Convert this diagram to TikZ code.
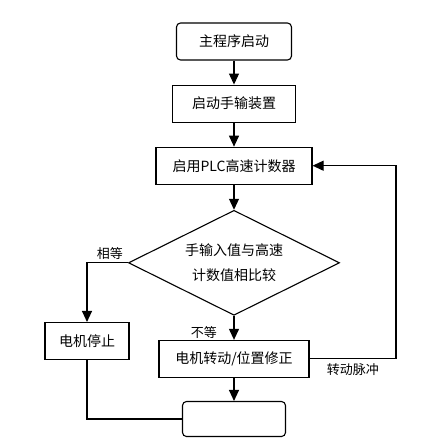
\documentclass[tikz,border=0pt]{standalone}
\usepackage{fontspec}
\newfontfamily\cjk{Noto Sans CJK SC}
\usetikzlibrary{arrows.meta, positioning, shapes.geometric}
\tikzset{
    box/.style={rectangle, draw=black, line width=1.1pt, fill=white, minimum height=37pt, inner sep=2pt, align=center, font=\cjk\fontsize{14}{16}\selectfont},
    roundbox/.style={box, rounded corners=4pt},
    decision/.style={diamond, aspect=2, draw=black, line width=1.1pt, fill=white, minimum width=211pt, minimum height=105pt, inner sep=0pt, align=center, font=\cjk\fontsize{14}{25}\selectfont},
    tag/.style={font=\cjk\fontsize{13}{15}\selectfont, inner sep=1pt},
    arrow/.style={-{Triangle[length=11pt,width=10pt]}, line width=1.1pt, draw=black},
    line/.style={line width=1.1pt, draw=black}
}
\begin{document}
\begin{tikzpicture}[node distance=24pt]
    \useasboundingbox (0,0) rectangle (443pt,-437pt);
    \node[roundbox, minimum width=115pt] (start) at (234pt,-41.5pt) {主程序启动};
    \node[box, below=of start, minimum width=123pt] (init) {启动手输装置};
    \node[box, below=of init, minimum width=156pt] (counter) {启用PLC高速计数器};
    \node[decision, below=25pt of counter] (compare) {手输入值与高速\\计数值相比较};
    \node[box, below=of compare, minimum width=150pt] (motor) {电机转动/位置修正};
    \node[roundbox, below=23pt of motor, minimum width=103pt, minimum height=35pt] (finish) {};
    \node[box, minimum width=84pt] (stop) at (87pt,-341pt) {电机停止};
    \coordinate (turn) at (396pt,0);

    \node[tag, above left=2pt and 4pt of compare.west] (equal) {相等};
    \node[tag, above left=0pt and 16pt of motor.north] (unequal) {不等};
    \node[tag, below right=3pt and 16pt of motor.east] (pulse) {转动脉冲};

    \draw[arrow] (start) -- (init);
    \draw[arrow] (init) -- (counter);
    \draw[arrow] (counter) -- (compare);
    \draw[arrow] (compare.west) -| (stop.north);
    \draw[arrow] (compare) -- (motor);
    \draw[arrow] (motor.east) -- (motor.east -| turn) |- (counter.east);
    \draw[arrow] (motor) -- (finish);
    \draw[line] (stop.south) |- (finish.west);
\end{tikzpicture}
\end{document}
